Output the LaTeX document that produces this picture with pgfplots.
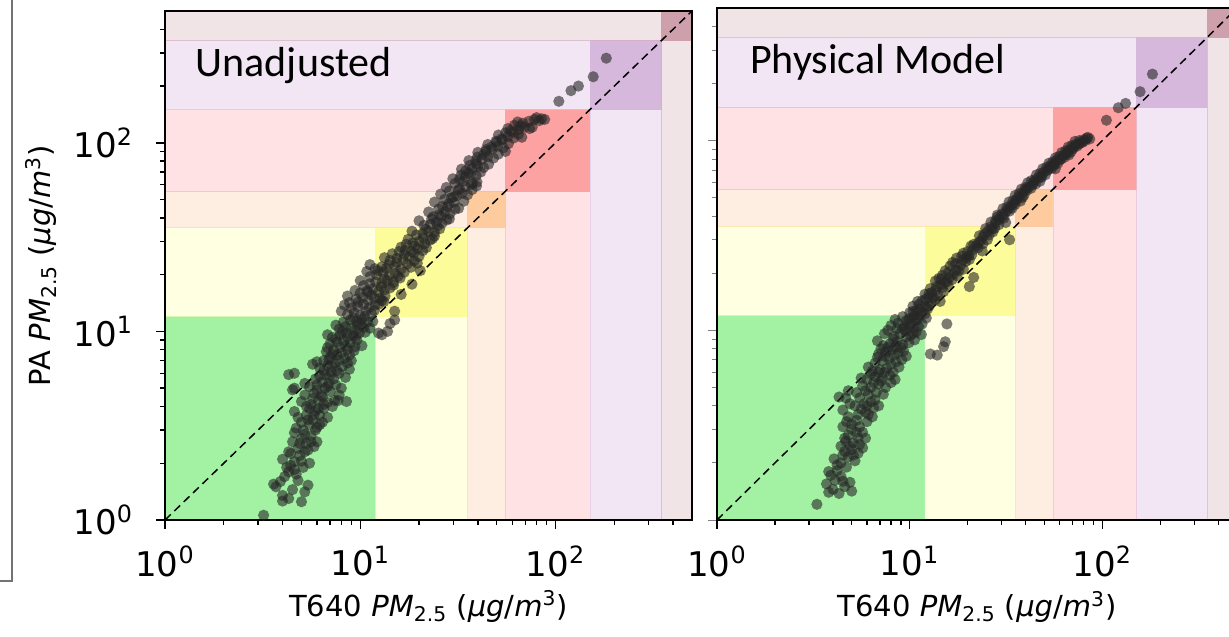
\documentclass[border=0pt]{standalone}
\usepackage{pgfplots}
\usepackage{pgfplotstable}
\pgfplotsset{compat=1.18}
\usepackage{fontspec}
\setmainfont{DejaVu Sans}
\newfontfamily\calibri{Carlito}

% AQI category colours (pale strip / overlap square)
\definecolor{gsat}{RGB}{163,242,163}
\definecolor{ypale}{RGB}{255,255,226}
\definecolor{ysat}{RGB}{253,252,155}
\definecolor{opale}{RGB}{254,238,226}
\definecolor{osat}{RGB}{253,203,158}
\definecolor{rpale}{RGB}{254,226,228}
\definecolor{rsat}{RGB}{252,162,162}
\definecolor{ppale}{RGB}{242,230,244}
\definecolor{psat}{RGB}{213,184,219}
\definecolor{mpale}{RGB}{240,228,231}
\definecolor{msat}{RGB}{206,160,171}
\definecolor{ptcol}{RGB}{38,38,38}

% T640 vs PA, unadjusted
\pgfplotstableread{
x y
3.2 1.06
4.0 1.26
4.3 1.30
5.0 1.25
5.2 1.41
3.7 1.50
3.9 1.60
4.1 1.70
4.3 1.80
3.6 1.55
5.4 1.53
4.5 1.45
4.8 1.62
4.0 1.35
4.6 2.04
5.2 2.30
4.8 2.40
4.0 2.10
4.4 1.95
4.7 1.75
4.9 2.2
5.5 2.0
5.1 1.9
4.5 2.6
5.0 2.7
5.3 2.55
5.8 2.45
4.3 2.3
5.6 2.8
6.0 2.6
4.7 3.07
5.1 3.0
5.5 3.2
6.0 3.1
4.8 3.5
5.3 3.6
5.7 3.4
6.2 3.6
4.6 3.76
5.5 3.9
5.9 3.8
6.5 3.9
6.8 3.5
5.0 3.3
6.4 3.3
5.0 4.25
5.6 4.1
6.1 4.3
6.8 4.2
8.5 4.25
7.4 4.3
4.6 5.0
5.2 4.6
5.8 4.7
6.3 4.6
7.0 4.8
7.8 4.6
4.5 4.9
6.6 5.0
8.0 5.0
5.5 5.1
4.3 5.9
4.6 6.0
5.7 6.7
6.0 5.2
6.4 5.4
6.9 5.3
7.3 5.6
5.9 5.6
6.6 5.9
7.1 6.1
7.8 6.0
8.4 5.7
6.2 6.4
6.8 6.6
7.4 6.8
8.1 6.5
8.8 6.3
6.5 7.0
7.0 7.3
7.6 7.5
8.3 7.2
9.0 7.0
6.7 7.8
7.3 8.0
7.9 8.2
8.6 8.0
9.3 7.9
7.0 8.6
7.6 8.8
8.2 9.0
8.9 8.7
9.6 9.0
10.2 8.4
7.2 9.3
7.9 9.6
8.5 9.8
9.2 9.5
9.9 9.8
12.4 9.8
13.8 10.0
12.9 9.6
7.8 10.3
8.4 10.6
9.0 10.4
9.7 10.8
10.4 10.5
8.2 11.2
8.9 11.5
9.6 11.3
10.2 11.6
10.9 11.2
15.0 12.8
15.0 11.5
14.2 11.0
8.6 12.3
9.3 12.6
10.0 12.2
10.7 12.8
11.4 12.4
9.0 13.3
9.7 13.6
10.4 13.9
11.1 13.4
11.9 13.8
8.8 14.2
9.5 14.8
10.3 15.2
11.0 14.6
11.8 15.0
12.6 15.0
16.2 15.7
13.2 14.4
10.0 16.0
10.8 16.4
11.6 16.8
12.4 16.2
13.3 16.6
14.2 17.0
10.4 17.5
11.2 17.9
12.0 18.3
12.9 18.0
13.8 18.6
14.8 18.2
18.4 17.8
11.2 19.5
12.1 20.0
13.1 20.5
14.1 19.8
15.1 20.3
16.0 19.2
11.9 21.5
12.9 22.0
14.0 22.6
15.1 22.0
16.2 21.4
17.4 22.8
20.3 21.0
14.2 23.8
15.4 24.4
16.6 24.0
17.8 24.8
18.9 23.6
20.0 25.0
15.8 26.5
17.0 27.0
18.3 26.5
19.6 27.5
20.9 26.8
17.2 29.0
18.6 29.5
20.0 30.0
21.4 29.2
22.8 30.5
24.0 32.0
19.4 32.5
20.9 33.0
22.4 34.0
24.0 33.5
25.5 35.0
21.2 36.5
22.9 37.0
24.5 38.0
26.2 37.5
27.7 39.0
28.6 39.5
23.6 40.5
25.3 41.5
27.1 43.0
28.8 42.0
30.6 44.5
26.4 46.0
28.4 47.5
30.2 48.5
31.9 45.0
33.9 49.0
29.2 51.0
31.2 52.5
33.3 54.0
35.4 53.0
37.4 56.5
32.2 57.0
34.6 58.5
37.0 60.0
39.4 59.0
37.6 61.0
39.6 62.0
32.2 64.0
34.5 66.0
36.8 68.0
39.2 67.0
41.4 70.0
34.7 71.0
37.4 73.0
40.0 75.0
42.8 74.0
45.4 77.0
39.1 80.0
42.1 82.0
45.0 84.5
48.1 83.0
50.9 87.0
55.4 90.0
44.1 90.0
47.5 93.0
50.5 96.0
54.0 94.0
57.4 99.0
50.0 101.0
53.5 104.0
57.0 108.0
61.0 106.0
64.6 111.0
67.2 107.0
61.0 114.0
65.0 118.0
69.3 121.0
73.7 119.0
76.0 121.0
66.0 123.0
68.0 127.0
73.0 130.0
78.0 133.0
82.5 131.0
85.0 134.0
80.0 136.0
88.0 133.0
104 166
120 189
131 200
156 224
182 281
4.2 1.9
4.6 1.85
5.0 2.05
4.4 2.25
5.4 2.35
4.9 2.55
5.6 2.6
5.2 2.85
4.6 2.9
5.9 3.0
6.2 3.2
5.4 3.4
5.8 3.6
6.1 3.9
5.3 4.0
6.5 4.1
7.2 4.0
5.7 4.4
6.4 4.5
7.7 4.3
6.0 4.9
6.8 5.1
7.5 5.2
5.2 5.3
6.2 5.8
7.0 5.8
7.6 6.2
6.5 6.2
7.2 6.5
8.6 6.8
6.0 6.9
6.9 7.1
7.8 7.0
8.8 7.5
7.2 7.6
8.0 7.7
6.8 8.2
8.4 8.4
9.4 8.3
7.5 9.1
8.6 9.3
9.5 9.4
10.6 9.9
6.8 9.6
8.1 10.0
9.4 10.1
11.2 10.4
7.5 10.8
10.0 11.0
11.6 11.3
9.2 11.8
10.5 12.0
8.0 12.8
11.8 12.9
8.3 13.8
12.4 13.9
9.8 14.3
12.9 14.6
8.6 15.4
11.4 15.6
13.4 15.4
9.4 16.5
11.0 16.2
12.8 17.2
14.8 17.6
10.0 18.6
13.3 19.0
15.6 19.6
10.8 20.8
12.3 21.0
16.8 20.6
13.6 21.6
18.2 21.9
11.2 22.6
15.4 23.2
19.6 23.0
13.3 24.6
16.8 25.6
14.6 25.8
18.8 26.0
16.2 28.0
19.0 28.4
21.8 27.8
17.6 30.8
21.0 31.2
23.4 31.0
18.4 34.0
21.6 34.8
24.8 36.2
20.0 38.6
23.2 39.5
26.0 40.8
22.4 43.0
25.2 44.6
28.0 45.8
24.0 48.5
27.0 50.0
30.0 51.5
25.8 53.5
28.6 55.5
31.8 56.0
27.6 58.0
30.6 61.0
33.6 62.5
29.8 64.5
32.8 67.5
36.0 69.0
33.0 72.5
36.4 76.0
39.4 77.5
36.0 80.5
39.8 84.0
42.8 86.5
40.0 89.0
44.0 92.0
47.0 95.0
45.0 98.0
49.5 102.0
53.0 105.0
51.0 110.0
55.5 113.0
59.0 116.0
57.0 119.0
61.5 124.0
64.0 129.0
}\unadj

% T640 vs PA, physical model
\pgfplotstableread{
x y
3.3 1.21
3.8 1.40
4.0 1.45
4.3 1.38
4.6 1.50
5.0 1.42
3.7 1.55
4.1 1.62
4.5 1.60
4.9 1.58
3.9 1.72
4.2 1.82
3.8 1.80
4.4 1.70
4.05 2.1
4.4 2.0
4.8 2.15
5.2 2.05
4.6 2.3
5.0 2.35
5.4 2.25
4.66 2.6
5.1 2.55
5.5 2.5
5.9 2.7
4.8 2.8
5.3 2.9
4.4 2.45
5.7 2.4
4.5 3.1
5.0 3.2
5.5 3.1
6.0 3.3
6.4 3.5
4.8 3.5
5.4 3.6
5.9 3.7
6.5 3.9
4.5 3.8
5.2 4.0
5.8 4.1
6.3 4.2
6.9 4.0
4.66 4.4
4.3 4.45
5.5 4.4
6.1 4.6
6.7 4.7
7.3 4.6
5.7 5.1
6.3 5.0
6.9 5.2
7.5 5.0
8.0 5.3
6.0 5.5
6.6 5.7
7.2 5.6
7.9 5.8
8.4 5.5
6.4 6.1
7.0 6.2
7.6 6.3
8.2 6.0
8.8 6.4
4.8 4.8
6.6 6.7
7.2 6.9
7.8 7.1
8.5 6.8
9.1 7.0
6.9 7.5
7.5 7.7
8.1 7.9
8.7 7.6
9.3 7.8
12.8 7.5
13.9 7.4
15.3 8.7
15.0 8.2
7.3 8.3
7.9 8.5
8.6 8.7
9.2 8.4
9.9 8.6
10.6 8.9
7.7 10.0
8.3 9.3
8.9 9.6
9.5 9.9
10.1 9.4
10.8 9.8
11.5 9.5
8.0 10.6
8.7 10.9
9.4 10.5
10.1 10.8
10.8 11.2
11.6 10.8
15.6 10.8
9.2 11.8
9.9 11.5
10.6 11.9
11.3 12.0
12.2 11.6
10.0 12.4
10.8 12.7
11.6 12.5
12.4 13.0
10.4 13.4
11.2 13.7
12.0 13.3
12.9 13.9
13.6 14.5
11.6 14.3
12.5 14.8
14.4 14.2
12.0 15.5
13.0 15.8
14.0 15.3
15.0 16.0
12.8 16.6
13.8 17.0
14.8 16.8
15.8 17.4
13.6 18.2
14.6 18.6
15.6 18.0
16.6 18.5
17.6 19.4
14.8 19.5
15.9 20.2
16.9 19.8
18.0 20.6
19.0 21.0
16.2 21.8
17.3 22.4
18.4 22.0
19.5 23.0
20.4 23.6
21.5 19.0
20.4 17.0
17.5 24.0
18.6 24.6
19.7 24.2
21.0 25.0
20.0 26.0
21.3 26.6
22.6 27.2
23.8 26.2
21.5 28.4
22.8 29.0
24.0 28.6
25.3 30.0
33.0 30.0
23.0 31.5
24.4 32.2
25.8 31.8
27.0 33.0
24.8 34.4
26.2 35.0
27.6 34.5
29.0 36.0
26.4 37.2
27.9 37.8
29.3 38.5
30.8 39.0
31.5 37.0
28.5 40.5
30.0 41.0
31.5 42.0
33.0 42.5
30.5 43.8
32.0 44.5
33.6 45.5
35.2 46.0
32.8 47.5
34.4 48.2
36.0 49.0
37.6 48.0
38.4 50.0
35.3 51.5
37.0 52.5
38.7 53.0
40.4 54.5
38.0 55.5
39.8 56.5
41.6 57.0
43.4 58.5
45.0 59.0
41.0 60.0
42.8 61.5
44.6 62.0
46.4 63.5
48.3 64.0
45.5 66.0
47.5 67.0
49.6 68.0
51.6 69.5
49.0 71.0
51.2 72.0
53.4 73.5
55.6 74.0
57.0 71.0
52.8 76.0
55.2 77.0
57.6 78.5
60.0 79.0
57.0 81.0
59.6 82.5
62.2 83.0
64.8 85.0
67.0 84.0
61.5 86.5
64.4 88.0
67.2 89.5
70.0 90.0
66.5 92.5
69.5 94.0
72.5 95.0
75.5 96.0
79.0 98.0
72.0 99.0
76.0 100.0
80.0 101.0
83.0 103.0
86.0 102.0
105 128
121 149
132 157
157 181
182 224
4.2 1.95
4.7 1.9
4.5 2.2
5.1 2.2
4.9 2.45
5.4 2.7
4.6 2.7
5.0 3.0
5.7 2.9
5.3 3.35
4.7 3.3
6.1 3.6
5.6 3.85
4.9 4.1
6.0 4.0
6.6 4.3
5.3 4.7
5.9 4.8
6.5 5.3
7.1 5.4
5.6 5.6
6.3 5.9
6.9 6.0
7.4 6.0
8.0 6.6
6.1 6.4
6.8 7.2
7.4 7.3
8.3 7.4
9.6 7.3
7.1 8.0
7.7 8.1
8.4 8.2
9.0 8.1
6.8 8.8
8.2 9.0
9.6 9.2
10.4 9.6
7.4 9.6
8.6 10.2
9.2 10.2
9.8 10.5
10.5 10.2
11.1 10.5
8.4 11.4
9.6 11.2
10.3 11.6
11.0 11.5
12.0 12.2
10.4 12.6
11.2 12.9
12.6 13.4
11.0 14.2
12.1 14.6
13.2 14.9
12.6 15.6
13.6 16.2
14.4 17.3
15.3 18.0
14.2 18.8
16.1 19.0
15.3 20.6
17.4 20.8
16.7 22.8
18.8 23.4
19.0 25.5
20.3 24.8
20.8 27.8
22.2 28.0
23.4 29.6
24.0 31.0
25.4 33.2
26.8 34.2
28.0 36.8
28.6 39.5
30.6 40.2
32.4 43.5
34.0 44.0
35.0 47.0
36.8 50.5
39.2 51.5
40.2 55.5
42.6 56.0
44.0 60.5
47.4 61.0
48.2 65.0
50.6 66.0
52.4 70.5
54.6 71.5
56.4 75.0
58.8 76.0
61.2 80.0
63.4 81.5
65.6 86.0
68.6 87.0
71.0 92.0
74.0 93.5
77.0 97.0
81.5 100.0
84.0 104.0
}\physmod

% one AQI category: L-shaped pale strip and the square on the diagonal
\newcommand{\aqiband}[4]{%
  \addplot[fill=#3, draw=#4, draw opacity=0.4, line width=0.4pt, forget plot]
    coordinates {(1,#1) (#1,#1) (#1,1) (#2,1) (#2,#2) (1,#2)} -- cycle;
  \addplot[fill=#4, draw=#4, line width=0.4pt, forget plot]
    coordinates {(#1,#1) (#2,#1) (#2,#2) (#1,#2)} -- cycle;
}
\newcommand{\aqibackground}{%
  \addplot[fill=gsat, draw=none, forget plot] coordinates {(1,1) (12,1) (12,12) (1,12)} -- cycle;
  \aqiband{12}{35.4}{ypale}{ysat}
  \aqiband{35.4}{55.4}{opale}{osat}
  \aqiband{55.4}{150.4}{rpale}{rsat}
  \aqiband{150.4}{350.4}{ppale}{psat}
  \aqiband{350.4}{500}{mpale}{msat}
}

\begin{document}
\begin{tikzpicture}
\useasboundingbox (0,0) rectangle (614.5pt,318pt);

\begin{axis}[
    xmode=log, ymode=log,
    xmin=1, xmax=500, ymin=1, ymax=500,
    scale only axis, axis on top,
    at={(82.5pt,58pt)}, anchor=south west,
    width=263.5pt, height=254.5pt,
    axis line style={line width=0.9pt},
    tick style={black, line width=0.7pt},
    major tick length=4.5pt, minor tick length=2.5pt,
    tick align=outside, xtick pos=left, ytick pos=left,
    xtick={1,10,100}, ytick={1,10,100},
    minor xtick={2,3,4,5,6,7,8,9,20,30,40,50,60,70,80,90,200,300,400},
    minor ytick={2,3,4,5,6,7,8,9,20,30,40,50,60,70,80,90,200,300,400},
    xticklabels={10\textsuperscript{0},10\textsuperscript{1},10\textsuperscript{2}},
    yticklabels={10\textsuperscript{0},10\textsuperscript{1},10\textsuperscript{2}},
    tick label style={font=\fontsize{17}{20}\selectfont},
    xticklabel style={yshift=-5pt},
    yticklabel style={xshift=-8pt},
    xlabel={T640 \textit{PM}\textsubscript{2.5} (\textit{μg}/\textit{m}\textsuperscript{3})},
    xlabel style={font=\fontsize{14.5}{17}\selectfont, at={(axis description cs:0.5,-0.17)}, anchor=center},
    ylabel={PA \textit{PM}\textsubscript{2.5} (\textit{μg}/\textit{m}\textsuperscript{3})},
    ylabel style={font=\fontsize{14.5}{17}\selectfont, at={(axis description cs:-0.235,0.5)}, anchor=center},
  ]
  \aqibackground
  \addplot[black, line width=0.75pt, dash pattern=on 4pt off 2.5pt] coordinates {(1,1) (500,500)};
  \addplot[only marks, mark=*, mark size=2.8pt,
    mark options={draw opacity=0, fill=ptcol, fill opacity=0.6}] table[x=x, y=y] {\unadj};
  \node[anchor=west, font=\calibri\fontsize{21}{24}\selectfont] at (axis description cs:0.045,0.893) {Unadjusted};
\end{axis}

\begin{axis}[
    xmode=log, ymode=log,
    xmin=1, xmax=500, ymin=1, ymax=500,
    scale only axis, axis on top,
    at={(358.5pt,58pt)}, anchor=south west,
    width=260pt, height=256pt,
    axis line style={line width=0.9pt},
    tick style={black, line width=0.7pt},
    ytick style={black!50, line width=0.4pt},
    major tick length=4.5pt, minor tick length=2.5pt,
    tick align=outside, xtick pos=left, ytick pos=left,
    xtick={1,10,100}, ytick={1,10,100},
    minor xtick={2,3,4,5,6,7,8,9,20,30,40,50,60,70,80,90,200,300,400},
    minor ytick={2,3,4,5,6,7,8,9,20,30,40,50,60,70,80,90,200,300,400},
    xticklabels={10\textsuperscript{0},10\textsuperscript{1},10\textsuperscript{2}},
    yticklabels={},
    tick label style={font=\fontsize{17}{20}\selectfont},
    xticklabel style={yshift=-5pt},
    xlabel={T640 \textit{PM}\textsubscript{2.5} (\textit{μg}/\textit{m}\textsuperscript{3})},
    xlabel style={font=\fontsize{14.5}{17}\selectfont, at={(axis description cs:0.5,-0.17)}, anchor=center},
  ]
  \aqibackground
  \addplot[black, line width=0.75pt, dash pattern=on 4pt off 2.5pt] coordinates {(1,1) (500,500)};
  \addplot[only marks, mark=*, mark size=2.8pt,
    mark options={draw opacity=0, fill=ptcol, fill opacity=0.6}] table[x=x, y=y] {\physmod};
  \node[anchor=west, font=\calibri\fontsize{21}{24}\selectfont] at (axis description cs:0.05,0.894) {Physical Model};
\end{axis}

% edge of the slide frame at the far left
\draw[line width=1.3pt, color=black!55] (6pt,320pt) -- (6pt,27.5pt) -- (-2pt,27.5pt);
\end{tikzpicture}
\end{document}
